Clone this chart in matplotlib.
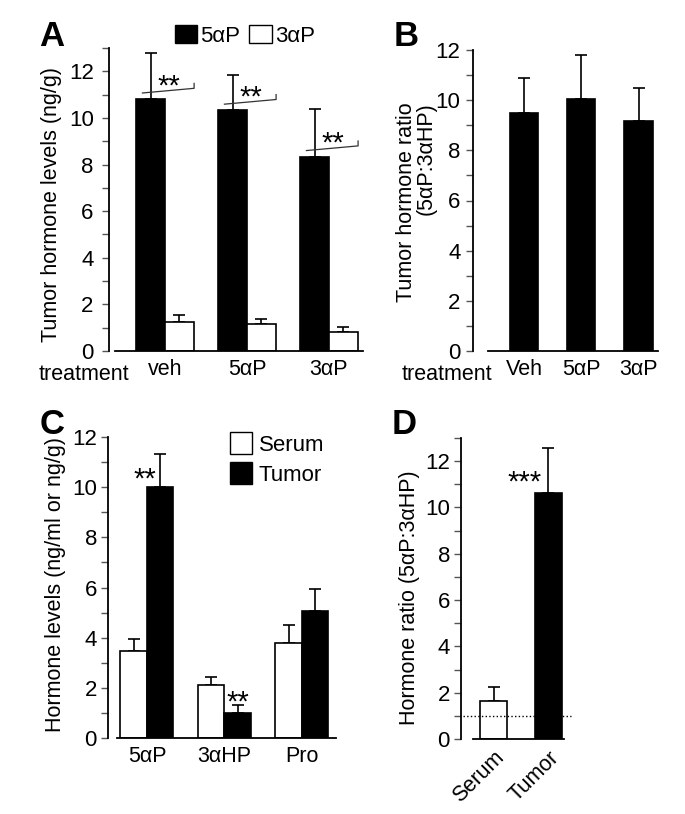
import numpy as np
import matplotlib
matplotlib.use("Agg")
import matplotlib.pyplot as plt
from matplotlib.patches import Patch
from matplotlib.ticker import MultipleLocator

plt.rcParams['font.family'] = ['Liberation Sans', 'DejaVu Sans']
plt.rcParams['font.size'] = 15

W, H = 685, 814

# panel A: tumor hormone levels by treatment
a_groups = ['veh', '5αP', '3αP']
a_5ap = [10.8, 10.32, 8.33]
a_5ap_err = [2.0, 1.51, 2.07]
a_3ap = [1.26, 1.15, 0.80]
a_3ap_err = [0.27, 0.23, 0.23]

# panel B: tumor hormone ratio
b_groups = ['Veh', '5αP', '3αP']
b_ratio = [9.47, 10.03, 9.16]
b_ratio_err = [1.43, 1.77, 1.34]

# panel C: serum vs tumor
c_groups = ['5αP', '3αHP', 'Pro']
c_serum = [3.48, 2.10, 3.80]
c_serum_err = [0.47, 0.35, 0.70]
c_tumor = [9.99, 1.00, 5.05]
c_tumor_err = [1.33, 0.30, 0.90]

# panel D: hormone ratio
d_groups = ['Serum', 'Tumor']
d_ratio = [1.64, 10.63]
d_ratio_err = [0.59, 1.93]

fig = plt.figure(figsize=(W/100, H/100), dpi=100)


def px_axes(left, top, right, bottom):
    return fig.add_axes([left/W, 1-bottom/H, (right-left)/W, (bottom-top)/H])


def style(ax, ymax, xlim, xstart, ypad):
    ax.set_ylim(0, ymax)
    ax.set_xlim(*xlim)
    for s in ['top', 'right']:
        ax.spines[s].set_visible(False)
    ax.spines['bottom'].set_bounds(xstart, xlim[1])
    ax.spines['left'].set_linewidth(1.3)
    ax.spines['bottom'].set_linewidth(1.3)
    ax.yaxis.set_major_locator(MultipleLocator(2))
    ax.yaxis.set_minor_locator(MultipleLocator(1))
    ax.tick_params(axis='y', which='both', length=5, width=1.0, color='#555555',
                   pad=ypad, labelsize=16)
    ax.tick_params(axis='x', length=0, labelsize=15.5, pad=6)


def bars(ax, x, vals, errs, color, w):
    ax.bar(x, vals, w, color=color, edgecolor='k', linewidth=1.2, zorder=2)
    ax.errorbar(x, vals, yerr=[np.zeros(len(vals)), errs], fmt='none',
                ecolor='k', elinewidth=1.2, capsize=4, capthick=1.2, zorder=1)


bkw = dict(fontsize=25, fontweight='bold', ha='center', va='center')

# ---- A
axA = px_axes(109, 48, 363, 351)
xa = np.arange(len(a_groups))
wa = 0.35
bars(axA, xa - wa/2, a_5ap, a_5ap_err, 'k', wa)
bars(axA, xa + wa/2, a_3ap, a_3ap_err, 'w', wa)
style(axA, 13, (-0.683, 2.415), -0.61, 6)
axA.set_xticks(xa)
axA.set_xticklabels(a_groups)
for i in range(len(a_groups)):
    y0 = a_5ap[i] + 0.27
    x0 = xa[i] - wa/2 - 0.1
    x1 = xa[i] + wa/2 + 0.18
    axA.plot([x0, x1, x1], [y0, y0 + 0.2, y0 + 0.41], color='#333333', lw=0.9, zorder=3)
    axA.text(xa[i] + 0.05, a_5ap[i] + 0.55, '**', fontsize=21, ha='center', va='center')
axA.legend(handles=[Patch(facecolor='k', edgecolor='k', label='5αP'),
                    Patch(facecolor='w', edgecolor='k', label='3αP')],
           ncol=2, loc='upper left', bbox_to_anchor=(175/W, 1-25/H),
           bbox_transform=fig.transFigure, frameon=False, borderpad=0,
           borderaxespad=0, handlelength=1.0, handleheight=0.9,
           handletextpad=0.15, columnspacing=0.4, fontsize=16)
fig.text(52/W, 1-204/H, 'Tumor hormone levels (ng/g)', rotation=90,
         ha='center', va='center', fontsize=15.5)
fig.text(84/W, 1-375/H, 'treatment', ha='center', va='center', fontsize=15.5)
fig.text(52/W, 1-36/H, 'A', **bkw)

# ---- B
axB = px_axes(473, 50, 658, 351)
xb = np.arange(len(b_groups))
bars(axB, xb, b_ratio, b_ratio_err, 'k', 0.497)
style(axB, 12, (-0.89, 2.34), -0.628, 4)
axB.set_xticks(xb)
axB.set_xticklabels(b_groups)
fig.text(406/W, 1-102/H, 'Tumor hormone ratio', rotation=90,
         ha='center', va='top', fontsize=15.5)
fig.text(426/W, 1-102/H, '(5αP:3αHP)', rotation=90,
         ha='center', va='top', fontsize=15.5)
fig.text(447/W, 1-375/H, 'treatment', ha='center', va='center', fontsize=15.5)
fig.text(406/W, 1-36/H, 'B', **bkw)

# ---- C
axC = px_axes(108, 437, 336, 738)
xc = np.arange(len(c_groups))
wc = 0.342
bars(axC, xc - wc/2, c_serum, c_serum_err, 'w', wc)
bars(axC, xc + wc/2, c_tumor, c_tumor_err, 'k', wc)
style(axC, 12, (-0.503, 2.44), -0.387, 3)
axC.set_xticks(xc)
axC.set_xticklabels(c_groups)
axC.text(xc[0] - 0.03, c_tumor[0] + 0.3, '**', fontsize=21, ha='center', va='center')
axC.text(xc[1] + wc/2, c_tumor[1] + 0.43, '**', fontsize=21, ha='center', va='center')
axC.legend(handles=[Patch(facecolor='w', edgecolor='k', label='Serum'),
                    Patch(facecolor='k', edgecolor='k', label='Tumor')],
           loc='upper left', bbox_to_anchor=(230/W, 1-432/H),
           bbox_transform=fig.transFigure, frameon=False, borderpad=0,
           borderaxespad=0, handlelength=1.0, handleheight=1.15,
           handletextpad=0.3, labelspacing=0.3, fontsize=16)
fig.text(55/W, 1-584/H, 'Hormone levels (ng/ml or ng/g)', rotation=90,
         ha='center', va='center', fontsize=15.5)
fig.text(52/W, 1-424/H, 'C', **bkw)

# ---- D
axD = px_axes(461, 438, 564, 739)
xd = np.arange(len(d_groups))
bars(axD, xd, d_ratio, d_ratio_err, ['w', 'k'], 0.5)
style(axD, 13, (-0.596, 1.29), -0.376, 3)
axD.set_xticks(xd)
axD.set_xticklabels(d_groups, rotation=45, ha='right', va='top',
                    rotation_mode='anchor')
axD.plot([-0.56, 1.42], [1.0, 1.0], color='k', lw=1, ls=':', clip_on=False, zorder=3)
axD.text(xd[1] - 0.44, d_ratio[1] + 0.45, '***', fontsize=21, ha='center', va='center')
fig.text(409/W, 1-598/H, 'Hormone ratio (5αP:3αHP)', rotation=90,
         ha='center', va='center', fontsize=15.5)
fig.text(404/W, 1-424/H, 'D', **bkw)

fig.savefig('out.png', dpi=100)
